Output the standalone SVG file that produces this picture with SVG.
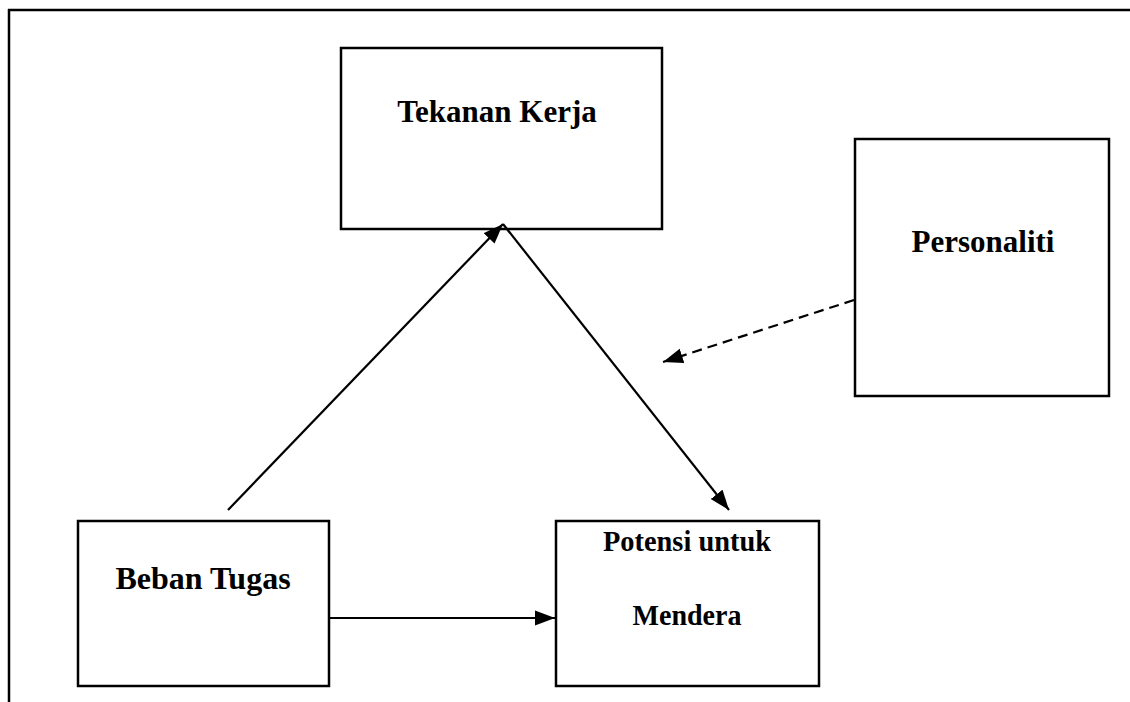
<svg xmlns="http://www.w3.org/2000/svg" width="1130" height="702" viewBox="0 0 1130 702">
<style>
.box{fill:#fff;stroke:#000;stroke-width:2.5}
.lbl{font-family:"Liberation Serif","Times New Roman",serif;font-weight:bold;fill:#000;text-anchor:middle}
.conn{stroke:#000;stroke-width:2.2;fill:none}
.dash{stroke-dasharray:10 6}
</style>
<defs>
<marker id="arr" markerUnits="userSpaceOnUse" markerWidth="22" markerHeight="16" refX="20" refY="8" orient="auto">
<path d="M0,0.5 L20,8 L0,15.5 z" fill="#000"/>
</marker>
</defs>
<g id="frame">
<line x1="8" y1="10" x2="1130" y2="10" stroke="#000" stroke-width="2.5"/>
<line x1="9" y1="9" x2="9" y2="702" stroke="#000" stroke-width="2.5"/>
</g>
<g id="tekanan">
<rect class="box" x="341" y="48" width="321" height="181"/>
<text class="lbl" x="497" y="122" font-size="31">Tekanan Kerja</text>
</g>
<g id="personaliti">
<rect class="box" x="855" y="139" width="254" height="257"/>
<text class="lbl" x="983" y="252" font-size="31">Personaliti</text>
</g>
<g id="beban">
<rect class="box" x="78" y="521" width="251" height="165"/>
<text class="lbl" x="203" y="589" font-size="32">Beban Tugas</text>
</g>
<g id="potensi">
<rect class="box" x="556" y="521" width="263" height="165"/>
<text class="lbl" x="687" y="551" font-size="29" textLength="168" lengthAdjust="spacingAndGlyphs">Potensi untuk</text>
<text class="lbl" x="687" y="625" font-size="29" textLength="109" lengthAdjust="spacingAndGlyphs">Mendera</text>
</g>
<g id="connectors">
<line class="conn" x1="228" y1="510" x2="503" y2="224" marker-end="url(#arr)"/>
<line class="conn" x1="503" y1="224" x2="729" y2="510" marker-end="url(#arr)"/>
<line class="conn dash" x1="854" y1="300" x2="663" y2="362" marker-end="url(#arr)"/>
<line class="conn" x1="329" y1="618" x2="555" y2="618" marker-end="url(#arr)"/>
</g>
</svg>
